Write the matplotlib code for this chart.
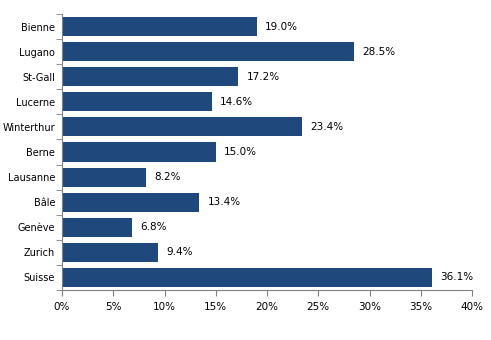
import matplotlib
matplotlib.use("Agg")
import matplotlib.pyplot as plt
from matplotlib.ticker import FixedLocator, NullFormatter

categories = ["Bienne", "Lugano", "St-Gall", "Lucerne", "Winterthur", "Berne",
              "Lausanne", "Bâle", "Genève", "Zurich", "Suisse"]
values = [19.0, 28.5, 17.2, 14.6, 23.4, 15.0, 8.2, 13.4, 6.8, 9.4, 36.1]
xticks = [0, 5, 10, 15, 20, 25, 30, 35, 40]
xticklabels = ["0%", "5%", "10%", "15%", "20%", "25%", "30%", "35%", "40%"]

fig = plt.figure(figsize=(4.91, 3.40), dpi=100)
ax = fig.add_axes([62/491, 1-290/340, (472-62)/491, (290-14)/340])

n = len(categories)
ypos = list(range(n))[::-1]
ax.barh(ypos, values, height=0.76, color="#1F497D")
for y, v in zip(ypos, values):
    ax.text(v + 0.8, y, f"{v:.1f}%", va="center", ha="left", fontsize=7.5, color="black")

ax.set_xlim(0, 40)
ax.set_ylim(-0.5, n - 0.5)
ax.set_xticks(xticks)
ax.set_xticklabels(xticklabels, fontsize=7.5)
ax.set_yticks(ypos)
ax.set_yticklabels(categories, fontsize=7)
ax.tick_params(axis="y", which="major", length=0, pad=5)
ax.yaxis.set_minor_locator(FixedLocator([i - 0.5 for i in range(n + 1)]))
ax.yaxis.set_minor_formatter(NullFormatter())
ax.tick_params(axis="y", which="minor", length=4, color="#808080", direction="out")
ax.tick_params(axis="x", which="major", length=4, color="#808080", direction="out", pad=5)

for s in ["top", "right"]:
    ax.spines[s].set_visible(False)
for s in ["left", "bottom"]:
    ax.spines[s].set_color("#808080")
    ax.spines[s].set_linewidth(0.8)

fig.savefig("out.png", dpi=100)
